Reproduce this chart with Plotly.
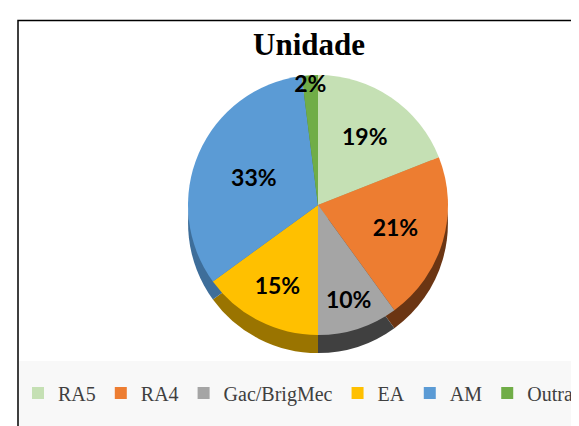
import plotly.graph_objects as go

categories = ["RA5", "RA4", "Gac/BrigMec", "EA", "AM", "Outra"]
values = [19, 21, 10, 15, 33, 2]
colors = ["#C5E0B4", "#ED7D31", "#A5A5A5", "#FFC000", "#5B9BD5", "#70AD47"]
side_colors = ["#8FA883", "#6B3513", "#404040", "#9A7400", "#3E6E9A", "#4A7A2E"]
title_text = "Unidade"

W, H = 579, 426

fig = go.Figure()

# "side" of the 3D pie: same data, darker colours, shifted down
fig.add_trace(go.Pie(
    labels=categories, values=values, sort=False, direction="clockwise", rotation=0,
    marker=dict(colors=side_colors, line=dict(width=0)),
    textinfo="none", hoverinfo="skip", showlegend=False,
    domain=dict(x=[0.1354, 0.9354], y=[0.190, 0.800]),
))

fig.add_trace(go.Pie(
    labels=categories, values=values, sort=False, direction="clockwise", rotation=0,
    marker=dict(colors=colors, line=dict(width=0)),
    textinfo="percent", texttemplate="<b>%{percent:.0%}</b>", textposition="inside",
    insidetextorientation="horizontal",
    insidetextfont=dict(family="Lato, Liberation Sans, sans-serif", size=23, color="#000000"),
    showlegend=True,
    domain=dict(x=[0.1354, 0.9354], y=[0.2324, 0.8427]),
))

fig.update_layout(
    width=W, height=H,
    margin=dict(l=0, r=0, t=0, b=0, autoexpand=False),
    paper_bgcolor="white",
    plot_bgcolor="white",
    uniformtext=dict(minsize=23, mode="show"),
    title=dict(text="<b>" + title_text + "</b>", x=0.52, xanchor="center",
               y=1 - 36 / H, yanchor="middle", yref="container",
               font=dict(family="Liberation Serif, Times New Roman, serif", size=31, color="#000000")),
    legend=dict(orientation="h", x=10 / W, xanchor="left", y=1 - 385 / H, yanchor="middle",
                font=dict(family="Liberation Serif, Times New Roman, serif", size=20, color="#404040"),
                bgcolor="rgba(0,0,0,0)", itemwidth=30, traceorder="normal"),
    shapes=[
        dict(type="rect", xref="paper", yref="paper", x0=11 / W, x1=1.02, y0=-0.05, y1=1 - 353 / H,
             fillcolor="#F8F8F8", line=dict(width=0), layer="below"),
        dict(type="rect", xref="paper", yref="paper", x0=10 / W, x1=1.02, y0=-0.05, y1=1 - 12.5 / H,
             fillcolor="rgba(0,0,0,0)", line=dict(color="#000000", width=1.5), layer="above"),
    ],
)

fig.write_html("out.html")
